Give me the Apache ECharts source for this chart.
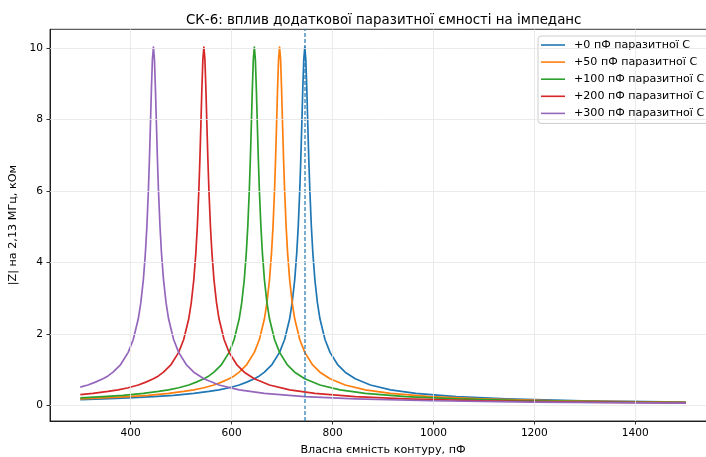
<!DOCTYPE html>
<html>
<head>
<meta charset="utf-8">
<script src="https://cdn.jsdelivr.net/npm/echarts@6/dist/echarts.min.js"></script>
<style>
html,body{margin:0;padding:0;background:#fff;}
#chart{width:706px;height:457px;}
</style>
</head>
<body>
<div id="chart"></div>
<script>
const seriesNames = ['+0 пФ паразитної C','+50 пФ паразитної C','+100 пФ паразитної C','+200 пФ паразитної C','+300 пФ паразитної C'];
const seriesColors = ['#1f77b4','#ff7f0e','#2ca02c','#d62728','#9467bd'];

const capBlue = [300,345,395,445,485,525,555,575,595,615,630,645,655,665,680,695,705,715,720,725,729,732,735,737,739,741,743,745,747,749,751,753,755,758,761,765,770,775,785,795,810,825,845,875,915,965,1045,1145,1295,1500];
const zBlue = [0.169,0.188,0.215,0.251,0.289,0.342,0.397,0.442,0.501,0.578,0.658,0.750,0.832,0.936,1.15,1.49,1.85,2.43,2.88,3.52,4.26,5.01,6.02,6.86,7.83,8.85,9.69,10.03,9.69,8.85,7.83,6.86,6.02,5.01,4.26,3.52,2.88,2.43,1.85,1.49,1.15,0.936,0.750,0.578,0.442,0.342,0.251,0.188,0.137,0.100];

const capOrange = [300,345,395,435,475,505,525,545,565,580,595,605,615,630,645,655,665,670,675,679,682,685,687,689,691,693,695,697,699,701,703,705,708,711,715,720,725,735,745,760,775,795,825,865,915,995,1095,1245,1500];
const zOrange = [0.190,0.215,0.251,0.289,0.342,0.397,0.442,0.501,0.578,0.658,0.750,0.832,0.936,1.15,1.49,1.85,2.43,2.88,3.52,4.26,5.01,6.02,6.86,7.83,8.85,9.69,10.03,9.69,8.85,7.83,6.86,6.02,5.01,4.26,3.52,2.88,2.43,1.85,1.49,1.15,0.936,0.750,0.578,0.442,0.342,0.251,0.188,0.137,0.094];

const capGreen = [300,345,385,425,455,475,495,515,530,545,555,565,580,595,605,615,620,625,629,632,635,637,639,641,643,645,647,649,651,653,655,658,661,665,670,675,685,695,710,725,745,775,815,865,945,1045,1195,1395,1500];
const zGreen = [0.218,0.251,0.289,0.342,0.397,0.442,0.501,0.578,0.658,0.750,0.832,0.936,1.15,1.49,1.85,2.43,2.88,3.52,4.26,5.01,6.02,6.86,7.83,8.85,9.69,10.03,9.69,8.85,7.83,6.86,6.02,5.01,4.26,3.52,2.88,2.43,1.85,1.49,1.15,0.936,0.750,0.578,0.442,0.342,0.251,0.188,0.137,0.100,0.088];

const capRed = [300,325,355,375,395,415,430,445,455,465,480,495,505,515,520,525,529,532,535,537,539,541,543,545,547,549,551,553,555,558,561,565,570,575,585,595,610,625,645,675,715,765,845,945,1095,1295,1500];
const zRed = [0.307,0.342,0.397,0.442,0.501,0.578,0.658,0.750,0.832,0.936,1.15,1.49,1.85,2.43,2.88,3.52,4.26,5.01,6.02,6.86,7.83,8.85,9.69,10.03,9.69,8.85,7.83,6.86,6.02,5.01,4.26,3.52,2.88,2.43,1.85,1.49,1.15,0.936,0.750,0.578,0.442,0.342,0.251,0.188,0.137,0.100,0.079];

const capPurple = [300,315,330,345,355,365,380,395,405,415,420,425,429,432,435,437,439,441,443,445,447,449,451,453,455,458,461,465,470,475,485,495,510,525,545,575,615,665,745,845,995,1195,1500];
const zPurple = [0.518,0.578,0.658,0.750,0.832,0.936,1.15,1.49,1.85,2.43,2.88,3.52,4.26,5.01,6.02,6.86,7.83,8.85,9.69,10.03,9.69,8.85,7.83,6.86,6.02,5.01,4.26,3.52,2.88,2.43,1.85,1.49,1.15,0.936,0.750,0.578,0.442,0.342,0.251,0.188,0.137,0.100,0.071];

const resonanceCap = 745;
const xTicks = [400,600,800,1000,1200,1400];
const yTicks = [0,2,4,6,8,10];

const caps = [capBlue,capOrange,capGreen,capRed,capPurple];
const zs = [zBlue,zOrange,zGreen,zRed,zPurple];

const FONT = 'DejaVu Sans';
const chart = echarts.init(document.getElementById('chart'), null, {renderer:'canvas'});

const series = seriesNames.map((name,i)=>({
  name: name,
  type: 'line',
  data: caps[i].map((c,j)=>[c, zs[i][j]]),
  symbol: 'none',
  smooth: false,
  z: 3,
  color: seriesColors[i],
  lineStyle: {color: seriesColors[i], width: 1.7, join: 'round'},
  emphasis: {disabled: true}
}));

series[0].markLine = {
  silent: true,
  symbol: ['none','none'],
  label: {show:false},
  lineStyle: {color: 'rgba(31,119,180,0.8)', type: [4,2], width: 1.5},
  data: [{xAxis: resonanceCap}]
};

// grid lines
series.push({
  name: '_grid',
  type: 'line',
  data: [[240,-5]],
  symbol: 'none',
  z: 1,
  silent: true,
  lineStyle: {opacity: 0},
  markLine: {
    silent: true,
    symbol: ['none','none'],
    label: {show:false},
    lineStyle: {color:'#e6e6e6', type:'solid', width:0.8},
    data: xTicks.map(v=>({xAxis:v})).concat(yTicks.map(v=>({yAxis:v})))
  }
});

const option = {
  animation: false,
  backgroundColor: '#fff',
  title: {
    text: 'СК-6: вплив додаткової паразитної ємності на імпеданс',
    left: 181, top: 9,
    textStyle: {fontFamily: FONT, fontSize: 13.4, fontWeight: 'normal', color: '#000'}
  },
  legend: {
    data: seriesNames,
    orient: 'vertical',
    left: 538, top: 36,
    padding: [3, 8, 4, 3],
    icon: 'rect',
    itemWidth: 24, itemHeight: 1.6, itemGap: 5.1,
    backgroundColor: 'rgba(255,255,255,0.85)',
    borderColor: '#cccccc', borderWidth: 1, borderRadius: 3,
    textStyle: {fontFamily: FONT, fontSize: 11.1, lineHeight: 12, color: '#000', padding: [0,0,0,4]}
  },
  grid: {
    left: 50, top: 29.3, width: 666, height: 391.7,
    outerBoundsMode: 'none',
    show: true, borderColor: '#000', borderWidth: 0.8, backgroundColor: 'transparent',
    containLabel: false
  },
  xAxis: {
    type: 'value', min: 240, max: 1560,
    name: 'Власна ємність контуру, пФ', nameLocation: 'middle', nameGap: 24,
    nameTextStyle: {fontFamily: FONT, fontSize: 11.2, color: '#000'},
    axisLine: {onZero: false, lineStyle: {color: '#000', width: 0.8}},
    axisTick: {show: true, customValues: xTicks, length: 3.5, lineStyle: {color: '#000', width: 0.8}},
    axisLabel: {customValues: xTicks, formatter: v => String(v), color: '#000', fontFamily: FONT, fontSize: 10.6, margin: 7},
    splitLine: {show: false}
  },
  yAxis: {
    type: 'value', min: -0.43, max: 10.53,
    name: '|Z| на 2,13 МГц, кОм', nameLocation: 'middle', nameGap: 28, nameRotate: 90,
    nameTextStyle: {fontFamily: FONT, fontSize: 11.2, color: '#000'},
    axisLine: {show: true, onZero: false, lineStyle: {color: '#000', width: 0.8}},
    axisTick: {show: true, customValues: yTicks, length: 3.5, lineStyle: {color: '#000', width: 0.8}},
    axisLabel: {customValues: yTicks, formatter: v => String(v), color: '#000', fontFamily: FONT, fontSize: 10.6, margin: 7},
    splitLine: {show: false}
  },
  series: series
};
chart.setOption(option);
</script>
</body>
</html>
